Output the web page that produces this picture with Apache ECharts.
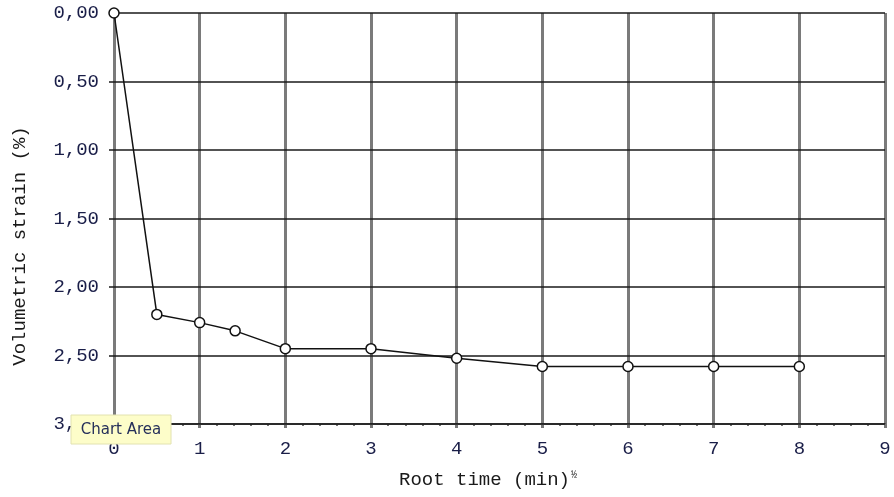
<!DOCTYPE html>
<html>
<head>
<meta charset="utf-8">
<script src="https://cdn.jsdelivr.net/npm/echarts@6/dist/echarts.min.js"></script>
<style>
  html, body { margin: 0; padding: 0; background: #fff; }
  #chart { width: 894px; height: 497px; }
</style>
</head>
<body>
<div id="chart"></div>
<script>
// Consolidation stage: volumetric strain against square root of elapsed time
const rootTime = [0, 0.5, 1, 1.414, 2, 3, 4, 5, 6, 7, 8];
const volStrain = [0.00, 2.20, 2.26, 2.32, 2.45, 2.45, 2.52, 2.58, 2.58, 2.58, 2.58];

const xTitle = 'Root time (min)';
const yTitle = 'Volumetric strain (%)';
const noteText = 'Chart Area';

const monoFont = '"Liberation Mono", "DejaVu Sans Mono", monospace';
const tickColor = '#1a1e48';
const titleColor = '#1a1a1a';

const chart = echarts.init(document.getElementById('chart'), null, { renderer: 'canvas' });

chart.setOption({
  animation: false,
  backgroundColor: '#ffffff',
  grid: { left: 114, right: 9, top: 13, bottom: 73, containLabel: false },
  xAxis: {
    type: 'value',
    min: 0,
    max: 9,
    interval: 1,
    z: 0,
    axisLine: { show: true, onZero: false, lineStyle: { color: '#2a2a2a', width: 1.5 } },
    axisTick: { show: true, length: 4, lineStyle: { color: '#777', width: 3 } },
    minorTick: { show: true, splitNumber: 5, length: 2, lineStyle: { color: '#444', width: 1.5 } },
    splitLine: { show: true, lineStyle: { color: '#7a7a7a', width: 3 } },
    axisLabel: {
      margin: 15,
      color: tickColor,
      fontFamily: monoFont,
      fontSize: 19
    }
  },
  yAxis: {
    type: 'value',
    inverse: true,
    min: 0,
    max: 3,
    interval: 0.5,
    z: 1,
    axisLine: { show: false },
    axisTick: { show: true, length: 5, lineStyle: { color: '#1a1a1a', width: 1.5 } },
    splitLine: { show: true, lineStyle: { color: '#1a1a1a', width: 1.5 } },
    axisLabel: {
      margin: 15,
      color: tickColor,
      fontFamily: monoFont,
      fontSize: 19,
      formatter: v => v.toFixed(2).replace('.', ',')
    }
  },
  series: [{
    type: 'line',
    data: rootTime.map((t, i) => [t, volStrain[i]]),
    z: 5,
    clip: false,
    symbol: 'circle',
    symbolSize: 10,
    lineStyle: { color: '#111', width: 1.5 },
    itemStyle: { color: '#ffffff', borderColor: '#111', borderWidth: 1.5 }
  }],
  graphic: {
    z: 100,
    elements: [
      {
        type: 'text',
        x: 20,
        y: 246,
        rotation: Math.PI / 2,
        style: {
          text: yTitle,
          font: '19px ' + monoFont,
          fill: titleColor,
          align: 'center',
          verticalAlign: 'middle'
        }
      },
      {
        type: 'text',
        x: 488,
        y: 480,
        style: {
          text: '{m|' + xTitle + '}{s|½}',
          align: 'center',
          verticalAlign: 'middle',
          rich: {
            m: { font: '19px ' + monoFont, fill: titleColor },
            s: { font: '10px ' + monoFont, fill: titleColor, verticalAlign: 'top', padding: [0, 0, 10, 1] }
          }
        }
      },
      {
        type: 'rect',
        z: 100,
        shape: { x: 71, y: 415, width: 100, height: 29 },
        style: { fill: '#fdfdc9', stroke: '#e2e2b0', lineWidth: 1 }
      },
      {
        type: 'text',
        z: 101,
        x: 121,
        y: 430,
        style: {
          text: noteText,
          font: '15px "DejaVu Sans", "Noto Sans", sans-serif',
          fill: '#26305a',
          align: 'center',
          verticalAlign: 'middle'
        }
      }
    ]
  }
});
</script>
</body>
</html>
